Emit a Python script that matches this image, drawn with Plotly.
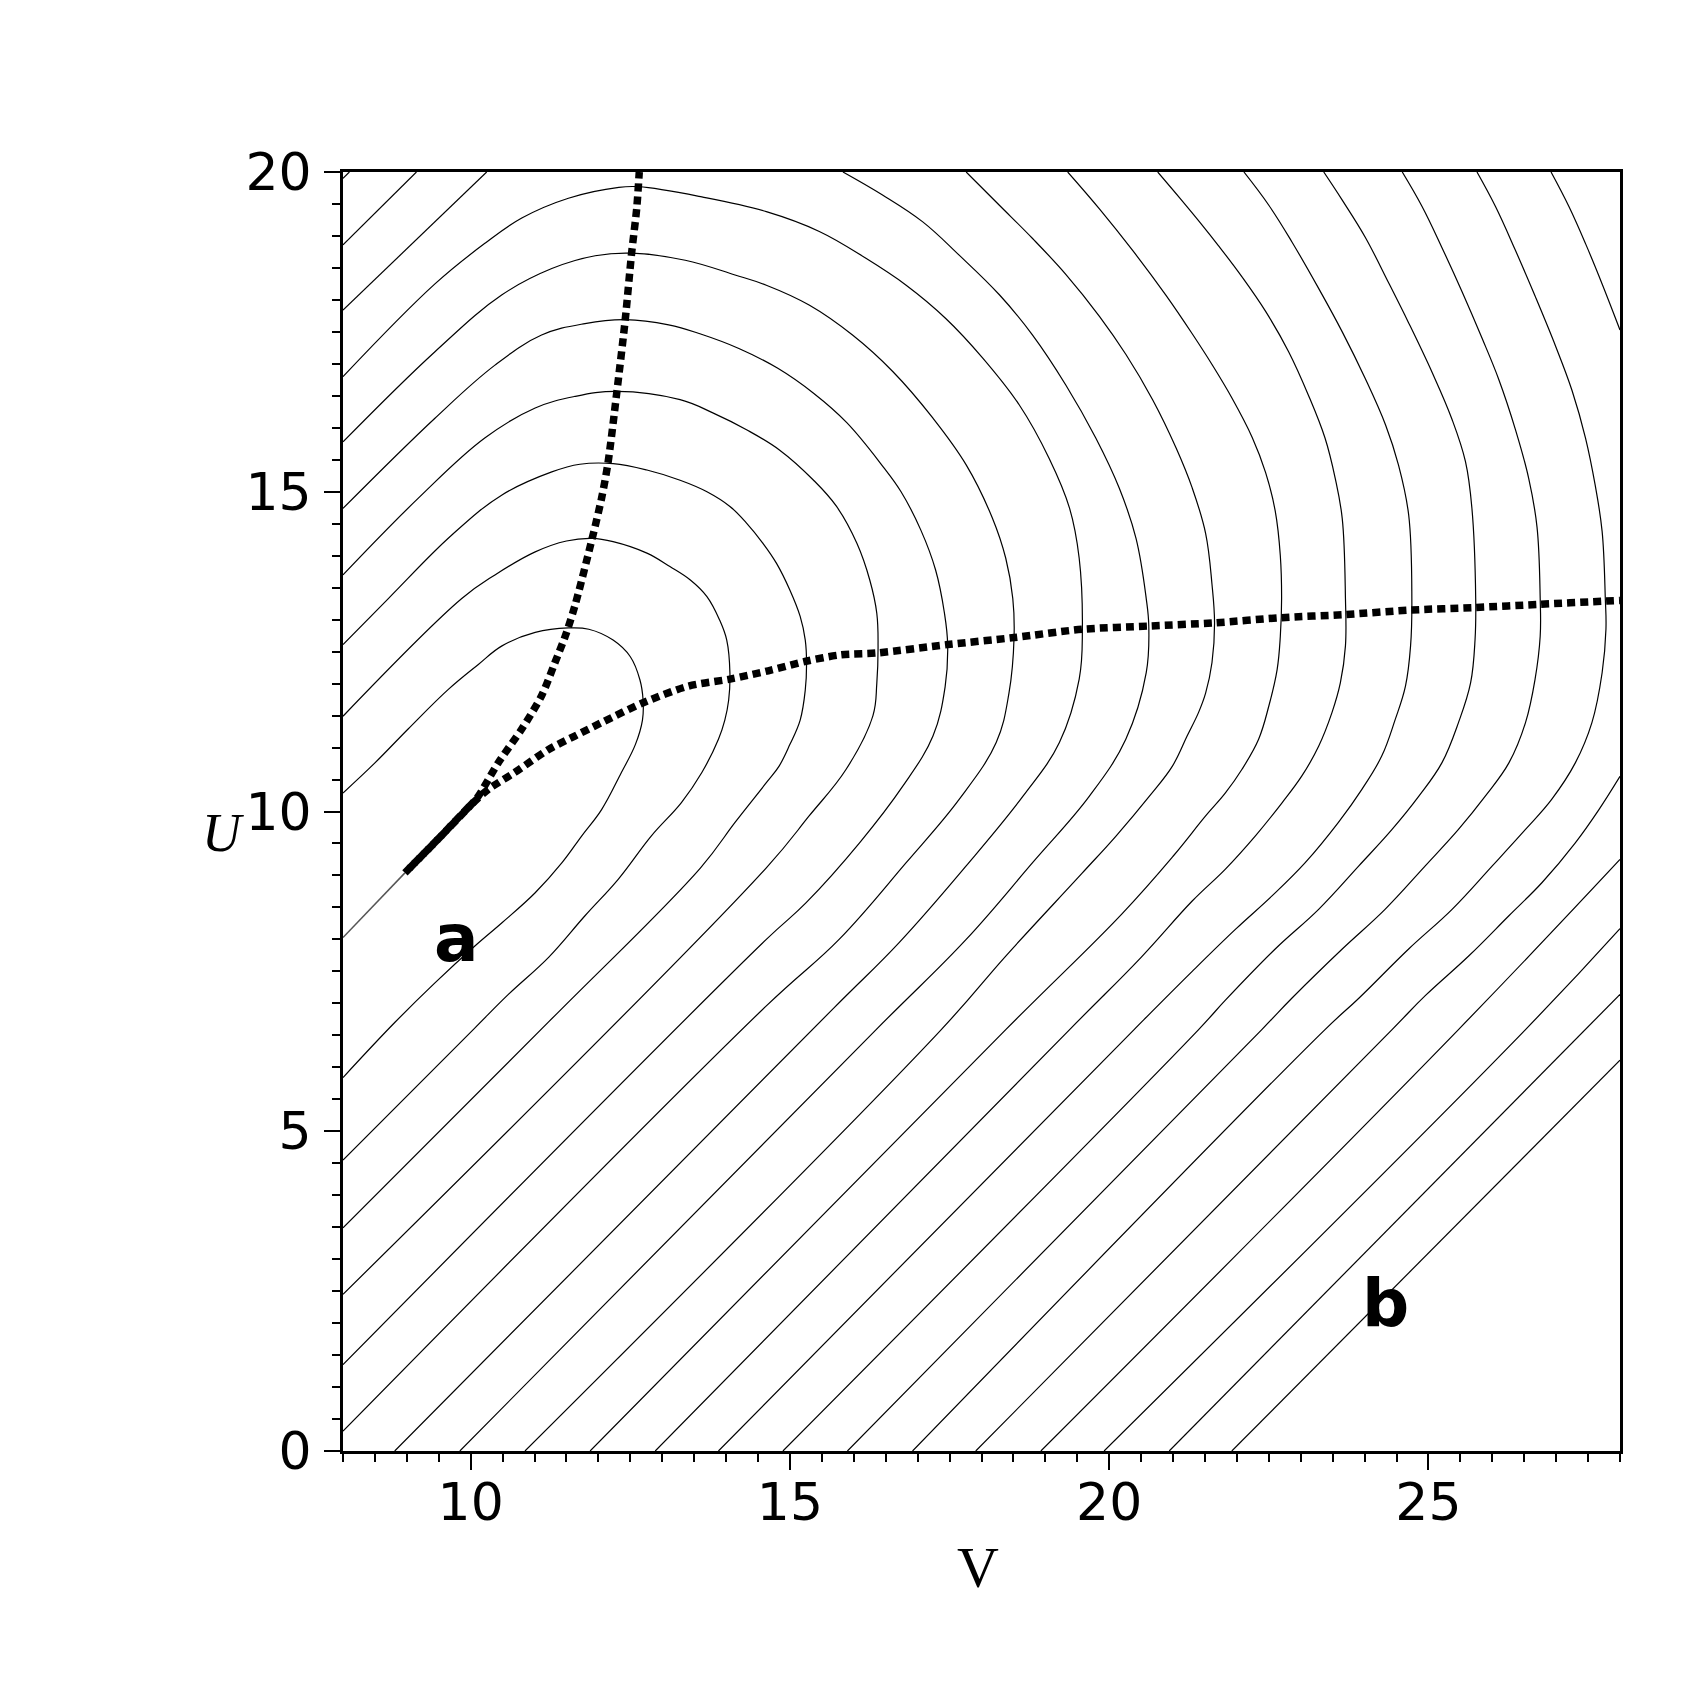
import plotly.graph_objects as go

# contour lines, as (V, U) pairs
c01 = [(8.0, 10.29), (8.50, 10.76), (9.02, 11.29), (9.65, 11.91), (10.12, 12.30), (10.49, 12.59),
       (11.01, 12.80), (11.53, 12.87), (11.85, 12.85), (12.23, 12.68), (12.50, 12.42), (12.65, 12.06),
       (12.70, 11.74), (12.69, 11.43), (12.58, 11.05), (12.36, 10.61), (12.05, 10.03), (11.74, 9.62),
       (11.43, 9.20), (11.01, 8.73), (10.49, 8.26), (10.07, 7.90), (9.44, 7.32), (8.81, 6.70), (8.0, 5.84)]
c02 = [(8.0, 11.49), (9.86, 13.33), (10.38, 13.70), (11.01, 14.06), (11.50, 14.23), (11.90, 14.27),
       (12.23, 14.22), (12.76, 14.04), (13.12, 13.83), (13.44, 13.62), (13.70, 13.36), (13.90, 12.99),
       (14.01, 12.68), (14.06, 12.16), (14.04, 11.74), (13.98, 11.43), (13.88, 11.13), (13.62, 10.61),
       (13.30, 10.14), (12.83, 9.62), (12.31, 8.94), (11.79, 8.37), (11.22, 7.72), (10.59, 7.14),
       (10.04, 6.59), (8.0, 4.55)]
c03 = [(8.0, 12.61), (8.71, 13.33), (9.70, 14.32), (10.49, 14.95), (11.27, 15.31), (11.71, 15.43),
       (12.23, 15.44), (12.76, 15.34), (13.28, 15.18), (13.70, 15.0), (14.06, 14.77), (14.32, 14.51),
       (14.58, 14.19), (14.79, 13.88), (15.00, 13.46), (15.16, 13.05), (15.24, 12.68), (15.26, 12.32),
       (15.24, 11.90), (15.16, 11.43), (15.0, 11.05), (14.83, 10.71), (14.63, 10.45), (14.14, 9.83),
       (13.60, 9.12), (11.22, 6.71), (8.0, 3.49)]
c04 = [(8.0, 13.70), (9.18, 14.90), (10.22, 15.84), (11.01, 16.31), (11.63, 16.49), (12.29, 16.57),
       (13.28, 16.44), (13.80, 16.23), (14.32, 15.97), (14.84, 15.65), (15.37, 15.18), (15.73, 14.77),
       (16.05, 14.19), (16.25, 13.62), (16.36, 13.10), (16.38, 12.58), (16.36, 12.0), (16.30, 11.50),
       (15.88, 10.66), (15.30, 9.93), (14.63, 9.12), (8.0, 2.45)]
c05 = [(8.0, 14.74), (9.44, 16.15), (10.38, 16.98), (11.11, 17.45), (11.79, 17.63), (12.42, 17.69),
       (13.10, 17.61), (13.59, 17.47), (14.20, 17.24), (14.81, 16.93), (15.37, 16.54), (15.89, 16.08),
       (16.46, 15.39), (16.74, 15.00), (17.05, 14.40), (17.28, 13.78), (17.42, 13.10), (17.47, 12.61),
       (17.43, 11.95), (17.24, 11.18), (16.77, 10.40), (16.09, 9.51), (15.25, 8.57), (14.63, 8.00),
       (8.0, 1.35)]
c06 = [(8.0, 15.78), (9.44, 17.19), (10.49, 18.08), (11.27, 18.49), (11.95, 18.69), (12.52, 18.73),
       (13.36, 18.62), (14.14, 18.39), (14.63, 18.23), (15.30, 17.92), (15.98, 17.45), (16.61, 16.88),
       (17.24, 16.15), (17.76, 15.42), (18.17, 14.59), (18.38, 13.96), (18.49, 13.33), (18.51, 12.72),
       (18.43, 11.85), (18.23, 11.08), (17.65, 10.19), (16.82, 9.20), (15.77, 8.00), (14.63, 6.96),
       (8.0, 0.31)]
c07 = [(8.0, 16.80), (9.44, 18.25), (10.23, 18.89), (10.80, 19.28), (11.53, 19.59), (12.32, 19.76),
       (12.63, 19.77), (13.62, 19.61), (14.63, 19.38), (15.46, 19.07), (16.19, 18.65), (16.82, 18.23),
       (17.44, 17.71), (18.02, 17.09), (18.59, 16.36), (19.06, 15.52), (19.38, 14.74), (19.53, 13.96),
       (19.58, 12.85), (19.53, 12.07), (19.22, 11.08), (18.65, 10.24), (17.76, 9.15), (16.71, 7.95),
       (15.67, 6.91), (8.81, 0.0)]
c08a = [(8.0, 17.84), (10.25, 20.0)]
c08b = [(15.83, 20.0), (16.45, 19.64), (17.08, 19.22), (17.65, 18.70), (18.28, 18.08), (18.80, 17.45),
        (19.32, 16.67), (19.79, 15.84), (20.16, 15.05), (20.42, 14.27), (20.58, 13.33), (20.62, 12.90),
        (20.58, 12.17), (20.26, 11.13), (19.69, 10.24), (18.80, 9.20), (17.76, 8.00), (16.35, 6.59),
        (9.83, 0.0)]
c09a = [(8.0, 18.86), (9.15, 20.0)]
c09b = [(17.76, 20.0), (18.28, 19.48), (18.80, 18.96), (19.32, 18.40), (19.85, 17.74), (20.26, 17.15),
        (20.68, 16.44), (21.05, 15.68), (21.30, 15.06), (21.51, 14.35), (21.61, 13.55), (21.65, 12.95),
        (21.61, 12.33), (21.51, 11.85), (21.40, 11.55), (21.22, 11.18), (20.99, 10.71), (20.63, 10.24),
        (20.11, 9.62), (19.58, 9.04), (18.38, 7.74), (17.37, 6.59), (10.85, 0.0)]
c10a = [(8.0, 19.90), (8.10, 20.0)]
c10b = [(19.35, 20.0), (19.85, 19.42), (20.37, 18.77), (20.89, 18.07), (21.30, 17.47), (21.61, 16.99),
        (21.92, 16.47), (22.24, 15.85), (22.45, 15.30), (22.60, 14.70), (22.68, 14.00), (22.70, 13.33),
        (22.68, 12.74), (22.63, 12.22), (22.50, 11.65), (22.34, 11.13), (22.08, 10.66), (21.82, 10.29),
        (21.51, 9.93), (21.0, 9.30), (20.2, 8.40), (18.38, 6.59), (11.87, 0.0)]
c11 = [(20.76, 20.0), (21.10, 19.60), (21.44, 19.19), (21.71, 18.85), (22.08, 18.36), (22.45, 17.82),
       (22.81, 17.19), (23.12, 16.51), (23.38, 15.84), (23.54, 15.21), (23.65, 14.58), (23.70, 13.33),
       (23.70, 12.59), (23.62, 12.01), (23.49, 11.55), (23.28, 11.02), (23.02, 10.56), (22.71, 10.14),
       (22.29, 9.62), (21.82, 9.10), (21.30, 8.60), (20.5, 7.72), (19.38, 6.59), (12.89, 0.0)]
c12 = [(22.11, 20.0), (22.50, 19.48), (22.86, 18.91), (23.28, 18.18), (23.65, 17.50), (24.01, 16.77),
       (24.33, 16.04), (24.53, 15.42), (24.69, 14.64), (24.74, 13.33), (24.72, 12.59), (24.64, 11.96),
       (24.48, 11.44), (24.27, 10.87), (23.96, 10.35), (23.59, 9.83), (23.07, 9.20), (22.55, 8.68),
       (21.98, 8.16), (21.30, 7.50), (20.39, 6.59), (13.88, 0.0)]
c13 = [(23.36, 20.0), (23.65, 19.56), (24.01, 18.98), (24.38, 18.26), (24.69, 17.64), (25.06, 16.86),
       (25.37, 16.13), (25.58, 15.47), (25.68, 14.75), (25.74, 13.33), (25.73, 12.69), (25.66, 12.01),
       (25.47, 11.39), (25.21, 10.76), (24.85, 10.24), (24.43, 9.72), (23.91, 9.15), (23.28, 8.47),
       (22.60, 7.85), (21.82, 7.05), (21.40, 6.59), (14.89, 0.0)]
c14 = [(24.59, 20.0), (24.90, 19.46), (25.21, 18.82), (25.53, 18.12), (25.84, 17.40), (26.10, 16.76),
       (26.36, 15.98), (26.57, 15.21), (26.70, 14.45), (26.75, 13.33), (26.75, 12.74), (26.67, 12.07),
       (26.52, 11.39), (26.26, 10.76), (25.89, 10.24), (25.47, 9.72), (24.95, 9.15), (24.32, 8.47),
       (23.65, 7.85), (22.86, 7.08), (22.39, 6.59), (15.90, 0.0)]
c15 = [(25.76, 20.0), (26.05, 19.46), (26.36, 18.78), (26.67, 18.06), (26.99, 17.28), (27.25, 16.58),
       (27.46, 15.84), (27.61, 15.11), (27.72, 14.38), (27.77, 13.33), (27.78, 12.85), (27.72, 12.17),
       (27.56, 11.39), (27.30, 10.76), (26.93, 10.19), (26.52, 9.72), (26.00, 9.15), (25.37, 8.47),
       (24.69, 7.85), (23.91, 7.08), (23.38, 6.59), (16.92, 0.0)]
c16a = [(26.92, 20.0), (27.20, 19.46), (27.46, 18.88), (27.72, 18.25), (28.0, 17.53)]
c16b = [(28.0, 10.55), (27.67, 10.03), (27.30, 9.51), (26.78, 8.89), (26.26, 8.37), (25.63, 7.74),
        (24.95, 7.12), (24.43, 6.59), (17.91, 0.0)]
c17 = [(28.0, 9.25), (25.47, 6.59), (18.93, 0.0)]
c18 = [(28.0, 8.17), (26.52, 6.59), (19.92, 0.0)]
c19 = [(28.0, 7.14), (20.94, 0.0)]
c20 = [(28.0, 6.11), (21.92, 0.0)]

contours = [c01, c02, c03, c04, c05, c06, c07, c08a, c08b, c09a, c09b, c10a, c10b,
            c11, c12, c13, c14, c15, c16a, c16b, c17, c18, c19, c20]

# thin grey stub where the two dotted curves start
ray_v = [8.0, 8.97]
ray_u = [8.03, 9.04]

# dotted curve through the tops of the contours
ridge_top_v = [8.97, 9.5, 10.0, 10.12, 10.43, 10.80, 11.11, 11.32, 11.48, 11.63, 11.90, 12.05,
               12.15, 12.29, 12.42, 12.52, 12.60, 12.64]
ridge_top_u = [9.04, 9.58, 10.10, 10.24, 10.76, 11.29, 11.81, 12.33, 12.74, 13.21, 14.26, 14.90,
               15.45, 16.57, 17.69, 18.73, 19.43, 20.0]

# dotted curve through the right-most points of the contours
ridge_right_v = [9.04, 9.5, 10.0, 10.28, 10.69, 11.22, 11.63, 12.05, 12.70, 13.41, 14.06, 14.66,
                 15.25, 15.80, 16.37, 17.47, 18.51, 19.58, 20.62, 21.65, 22.68, 23.70, 24.72,
                 25.73, 26.75, 27.78, 28.0]
ridge_right_u = [9.11, 9.58, 10.10, 10.35, 10.61, 10.97, 11.18, 11.39, 11.70, 11.96, 12.07, 12.20,
                 12.35, 12.45, 12.48, 12.61, 12.72, 12.85, 12.90, 12.95, 13.03, 13.08, 13.15,
                 13.19, 13.24, 13.29, 13.30]

region_labels = ["a", "b"]
region_v = [9.78, 24.32]
region_u = [8.02, 2.30]


fig = go.Figure()
for c in contours:
    v, u = zip(*c)
    fig.add_trace(go.Scatter(
        x=v, y=u, mode="lines",
        line=dict(color="black", width=1.2, shape="spline", smoothing=1.1),
        hoverinfo="skip",
    ))

fig.add_trace(go.Scatter(
    x=ray_v, y=ray_u, mode="lines",
    line=dict(color="#555555", width=1.5), hoverinfo="skip",
))

for rv, ru in [(ridge_top_v, ridge_top_u), (ridge_right_v, ridge_right_u)]:
    fig.add_trace(go.Scatter(
        x=rv, y=ru, mode="lines",
        line=dict(color="black", width=7.5, dash="8px,5px", shape="spline", smoothing=0.8),
        hoverinfo="skip",
    ))

for txt, v, u in zip(region_labels, region_v, region_u):
    fig.add_annotation(
        x=v, y=u, xref="x", yref="y", text="<b>%s</b>" % txt, showarrow=False,
        font=dict(family="DejaVu Sans", size=66, color="black"),
        xanchor="center", yanchor="middle",
    )

fig.add_annotation(
    x=-0.094, y=0.483, xref="paper", yref="paper", text="<i>U</i>", showarrow=False,
    font=dict(family="Liberation Serif", size=54, color="black"),
    xanchor="center", yanchor="middle",
)
fig.add_annotation(
    x=0.497, y=-0.091, xref="paper", yref="paper", text="V", showarrow=False,
    font=dict(family="Liberation Serif", size=58, color="black"),
    xanchor="center", yanchor="middle",
)

axis_common = dict(
    showgrid=False, zeroline=False,
    showline=True, linecolor="black", linewidth=3, mirror=True,
    ticks="outside", ticklen=16, tickwidth=1.5, tickcolor="black",
    dtick=5, tick0=0,
    minor=dict(dtick=0.5, ticks="outside", ticklen=8, tickwidth=1.5, tickcolor="black"),
    tickfont=dict(family="DejaVu Sans", size=52, color="black"),
)

fig.update_xaxes(range=[8, 28], ticklabelstandoff=-12, **axis_common)
fig.update_yaxes(range=[0, 20], ticklabelstandoff=2, **axis_common)

# the page body adds 8px on the left and top
fig.update_layout(
    width=1708, height=1708,
    margin=dict(l=335, r=96, t=164, b=265),
    plot_bgcolor="white", paper_bgcolor="white",
    showlegend=False,
)

fig.write_html("out.html")
